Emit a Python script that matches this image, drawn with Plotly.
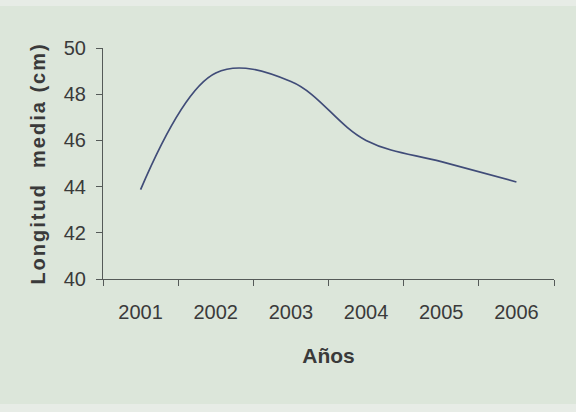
import plotly.graph_objects as go

years = ["2001", "2002", "2003", "2004", "2005", "2006"]
longitud_media = [43.87, 48.92, 48.55, 46.0, 45.08, 44.2]
y_ticks = [40, 42, 44, 46, 48, 50]

W, H = 576, 412
ML, MR, MT, MB = 103, 22, 48, 133
PW, PH = W - ML - MR, H - MT - MB

bg = "#dce6da"
edge = "#e7ece6"
txt = "#3a3a3a"
axis_col = "#555a58"

fig = go.Figure()
fig.add_trace(go.Scatter(
    x=years, y=longitud_media, mode="lines",
    line=dict(color="#404c78", width=1.7, shape="spline", smoothing=1.05),
    showlegend=False, hoverinfo="skip",
))

strip = dict(type="rect", xref="paper", yref="paper", x0=-ML / PW, x1=1 + MR / PW,
             fillcolor=edge, line=dict(width=0), layer="below")
fig.update_layout(
    width=W, height=H,
    margin=dict(l=ML, r=MR, t=MT, b=MB),
    paper_bgcolor=bg, plot_bgcolor=bg,
    font=dict(family="Liberation Sans, Arial", color=txt, size=20),
    shapes=[
        dict(strip, y0=1 + (MT - 6) / PH, y1=1 + MT / PH),
        dict(strip, y0=-MB / PH, y1=-(MB - 8) / PH),
    ],
)

fig.update_xaxes(
    type="category", range=[-0.5, 5.5],
    showline=True, linecolor=axis_col, linewidth=1.2,
    ticks="outside", tickson="boundaries", ticklen=6, tickwidth=1.2, tickcolor=axis_col,
    showgrid=False, zeroline=False,
    tickfont=dict(size=20), ticklabelstandoff=15,
    title=dict(text="Años", font=dict(size=21, weight="bold"), standoff=26),
)
fig.update_yaxes(
    range=[40, 50], tickvals=y_ticks,
    showline=True, linecolor=axis_col, linewidth=1.2,
    ticks="outside", ticklen=6, tickwidth=1.2, tickcolor=axis_col,
    showgrid=False, zeroline=False,
    tickfont=dict(size=20), ticklabelstandoff=6,
    title=dict(text='<span style="letter-spacing:2px">Longitud  media (cm)</span>',
               font=dict(size=20, weight="bold"), standoff=12),
)

fig.write_html("out.html")
